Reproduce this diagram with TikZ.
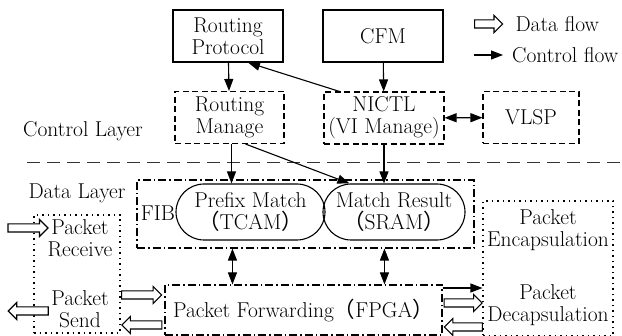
\documentclass[tikz,border=0pt]{standalone}
\usepackage{fontspec}
\newfontfamily\cjk{Noto Sans CJK SC}
\usetikzlibrary{shapes,arrows.meta}
\usetikzlibrary{calc,positioning}

\begin{document}
\begin{tikzpicture}[x=1pt,y=1pt,font=\fontsize{21.5}{22}\selectfont]
    \def\boxHeight{52}
    \def\lw{1.1pt}

    \tikzstyle{plain}=[draw,line width=\lw,align=center,minimum height=\boxHeight]
    \tikzstyle{softbox}=[plain,dash pattern=on 6pt off 3.5pt]
    \tikzstyle{fib}=[draw,line width=\lw,dash pattern=on 8pt off 3pt on 1.5pt off 3pt]
    \tikzstyle{dots}=[draw,line width=\lw,dash pattern=on 1.5pt off 4pt]
    \tikzstyle{memory}=[draw,line width=\lw,align=center,rounded corners=28pt,minimum height=56]
    \tikzstyle{ctrl}=[line width=\lw,-{Triangle[length=12pt,width=9pt]}]
    \tikzstyle{ctrlboth}=[line width=\lw,{Triangle[length=12pt,width=9pt]}-{Triangle[length=12pt,width=9pt]}]
    \tikzstyle{dflow}=[single arrow,draw,fill=white,line width=\lw,inner sep=3.5pt,
    single arrow head extend=4.5pt,minimum height=40]

    \useasboundingbox (0,0) rectangle (622,-336);

    % Control layer
    \node[plain, minimum width=110] (RP) at (228,-36) {Routing\\Protocol};
    \node[plain, minimum width=120] (CFM) at (383,-36) {CFM};
    \node[softbox, minimum width=109] (RM) at (229.5,-117.5) {Routing\\Manage};
    \node[softbox, minimum width=120] (NICTL) at (384,-118) {NICTL\\(VI Manage)};
    \node[softbox, minimum width=96] (VLSP) at (531,-117.5) {VLSP};
    \node (ctrlLayer) at (83,-131) {Control Layer};

    % Layer border
    \coordinate (borderL) at (27,-163);
    \coordinate (borderR) at (622,-163);
    \draw[line width=1pt, black!80, dash pattern=on 13pt off 7pt] (borderL) -- (borderR);

    % Data layer
    \node (dataLayer) at (77,-193) {Data Layer};
    \node[fib, minimum width=337, minimum height=68] (FIB) at (305.5,-214) {};
    \node (fibLabel) at (158,-213) {FIB};
    \node[memory, minimum width=149] (PM) at (250.5,-212) {Prefix Match\\{\cjk （}TCAM{\cjk ）}};
    \node[memory, minimum width=142] (MR) at (394,-212) {Match Result\\{\cjk （}SRAM{\cjk ）}};
    \node[fib, minimum width=277, minimum height=50] (PF) at (303.5,-310) {Packet Forwarding{\cjk （}FPGA{\cjk ）}};

    \node[dots, minimum width=86, minimum height=118] (IO) at (77,-274) {};
    \node (recv) at (80,-238) [align=center] {Packet\\Receive};
    \node (send) at (80,-309) [align=center] {Packet\\Send};

    \node[dots, minimum width=130, minimum height=135] (ENC) at (548,-268.5) {};
    \node (encap) at (548,-230) [align=center] {Packet\\Encapsulation};
    \node (decap) at (548,-305) [align=center] {Packet\\Decapsulation};

    % Control flow
    \coordinate (rmA) at ($(RM.south)+(2,0)$);
    \coordinate (rmB) at ($(RM.south)+(16,0)$);
    \coordinate (pfOut) at ($(PF.east)+(0,22)$);
    \draw[ctrl] (RP) -- (RM);
    \draw[ctrl] (CFM) -- (NICTL);
    \draw[ctrl] ($(NICTL.north west)+(16,0)$) -- ($(RP.south)+(20,0)$);
    \draw[ctrlboth] (NICTL) -- (VLSP);
    \draw[ctrl] (rmA) -- (rmA |- PM.north);
    \draw[ctrl] (rmB) -- ($(MR.north west)+(27,0)$);
    \draw[ctrl] (NICTL) -- (NICTL |- MR.north);
    \draw[ctrlboth] ($(FIB.south west)+(96,0)$) -- ($(PF.north west)+(68,0)$);
    \draw[ctrlboth] ($(FIB.south west)+(248,0)$) -- ($(PF.north west)+(220,0)$);
    \draw[ctrl] (pfOut) -- (pfOut -| ENC.west);

    % Data flow
    \node[dflow, anchor=west] (inArrow) at ($(IO.west)+(-26,46)$) {};
    \node[dflow, anchor=west, shape border rotate=180] (outArrow) at ($(IO.west)+(-26,-37)$) {};
    \node[dflow, anchor=east] (toPF) at ($(PF.west)+(-2,15)$) {};
    \node[dflow, anchor=east, shape border rotate=180] (fromPF) at ($(PF.west)+(-2,-15)$) {};
    \node[dflow, anchor=west, minimum height=38] (toENC) at ($(PF.east)+(1,7)$) {};
    \node[dflow, anchor=west, minimum height=38, shape border rotate=180] (fromENC) at ($(PF.east)+(1,-17)$) {};

    % Legend
    \node[dflow, minimum height=28, anchor=west] (keyData) at (474,-24) {};
    \node[anchor=west, inner sep=2pt] (keyDataText) at ($(keyData.east)+(10,0)$) {Data flow};
    \coordinate (keyCtrlA) at (474,-55);
    \coordinate (keyCtrlB) at (503,-55);
    \draw[ctrl] (keyCtrlA) -- (keyCtrlB);
    \node[anchor=west, inner sep=2pt] (keyCtrlText) at ($(keyCtrlB)+(7,0)$) {Control flow};
\end{tikzpicture}
\end{document}
